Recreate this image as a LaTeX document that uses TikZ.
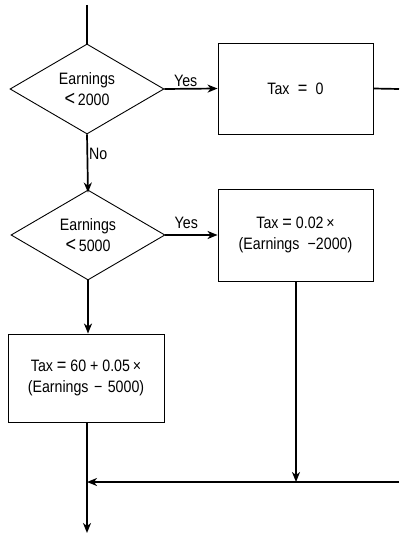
\documentclass[tikz,border=0pt]{standalone}
\usepackage{fontspec}
\setmainfont[FakeStretch=0.86]{Liberation Sans}
\usetikzlibrary{shapes.geometric,arrows.meta}
% a larger relation sign for the decision texts
\newcommand{\bigless}{{\fontsize{21bp}{21bp}\selectfont<}}
\newcommand{\bigeq}{{\fontsize{19bp}{21bp}\selectfont=}}
\begin{document}
\begin{tikzpicture}[x=1bp,y=-1bp,
  every node/.style={font=\fontsize{16.5bp}{21bp}\selectfont},
  decision/.style={draw,line width=0.9bp,shape=diamond,aspect=1.7,inner sep=0pt,
    minimum width=154bp,minimum height=90bp,align=center},
  process/.style={draw,line width=0.9bp,rectangle,inner sep=0pt,align=center},
  flow/.style={line width=1.7bp},
  arr/.style={flow,-{Stealth[length=10bp,width=8bp,inset=3bp]}},
  lbl/.style={inner sep=1bp}]
\useasboundingbox (0,0) rectangle (399,550);

% decisions
\node[decision] (d1) at (87,89) {Earnings\\\bigless\,2000};
\node[decision] (d2) at (88,235) {Earnings\\\bigless\,5000};

% tax boxes
\node[process,minimum width=155bp,minimum height=91bp] (b1) at (295.5,88.5) {Tax\enspace\bigeq\enspace0};
\node[process,minimum width=155bp,minimum height=92bp] (b2) at (295.5,235)
  {Tax \bigeq\ 0.02\,×\\(Earnings\enspace−2000)};
\node[process,minimum width=156bp,minimum height=88bp] (b3) at (86,378)
  {Tax \bigeq\ 60 + 0.05\,×\\(Earnings\,\,−\,\,5000)};

% free ends and joins
\coordinate (top) at (87,5);
\coordinate (r1) at (399,89);
\coordinate (r2) at (399,482);
\coordinate (j2) at (296,482);
\coordinate (j3) at (87,482);
\coordinate (out) at (87,533);

% connectors
\draw[flow] (top) -- (d1.north);
\draw[arr] (d1.east) -- node[lbl,above,pos=0.4] {Yes} (b1.west);
\draw[flow] (b1.east) -- (r1);
\draw[arr] (d1.south) -- node[lbl,right,pos=0.33] {No} ([yshift=-3bp]d2.north);
\draw[arr] (d2.east) -- node[lbl,above,pos=0.4,yshift=4bp] {Yes} (b2.west);
\draw[arr] (d2.south) -- (d2.south |- b3.north);
\draw[arr] (b2.south -| j2) -- (j2);
\draw[arr] (r2) -- (j3);
\draw[arr] (b3.south -| j3) -- (out);
\end{tikzpicture}
\end{document}
